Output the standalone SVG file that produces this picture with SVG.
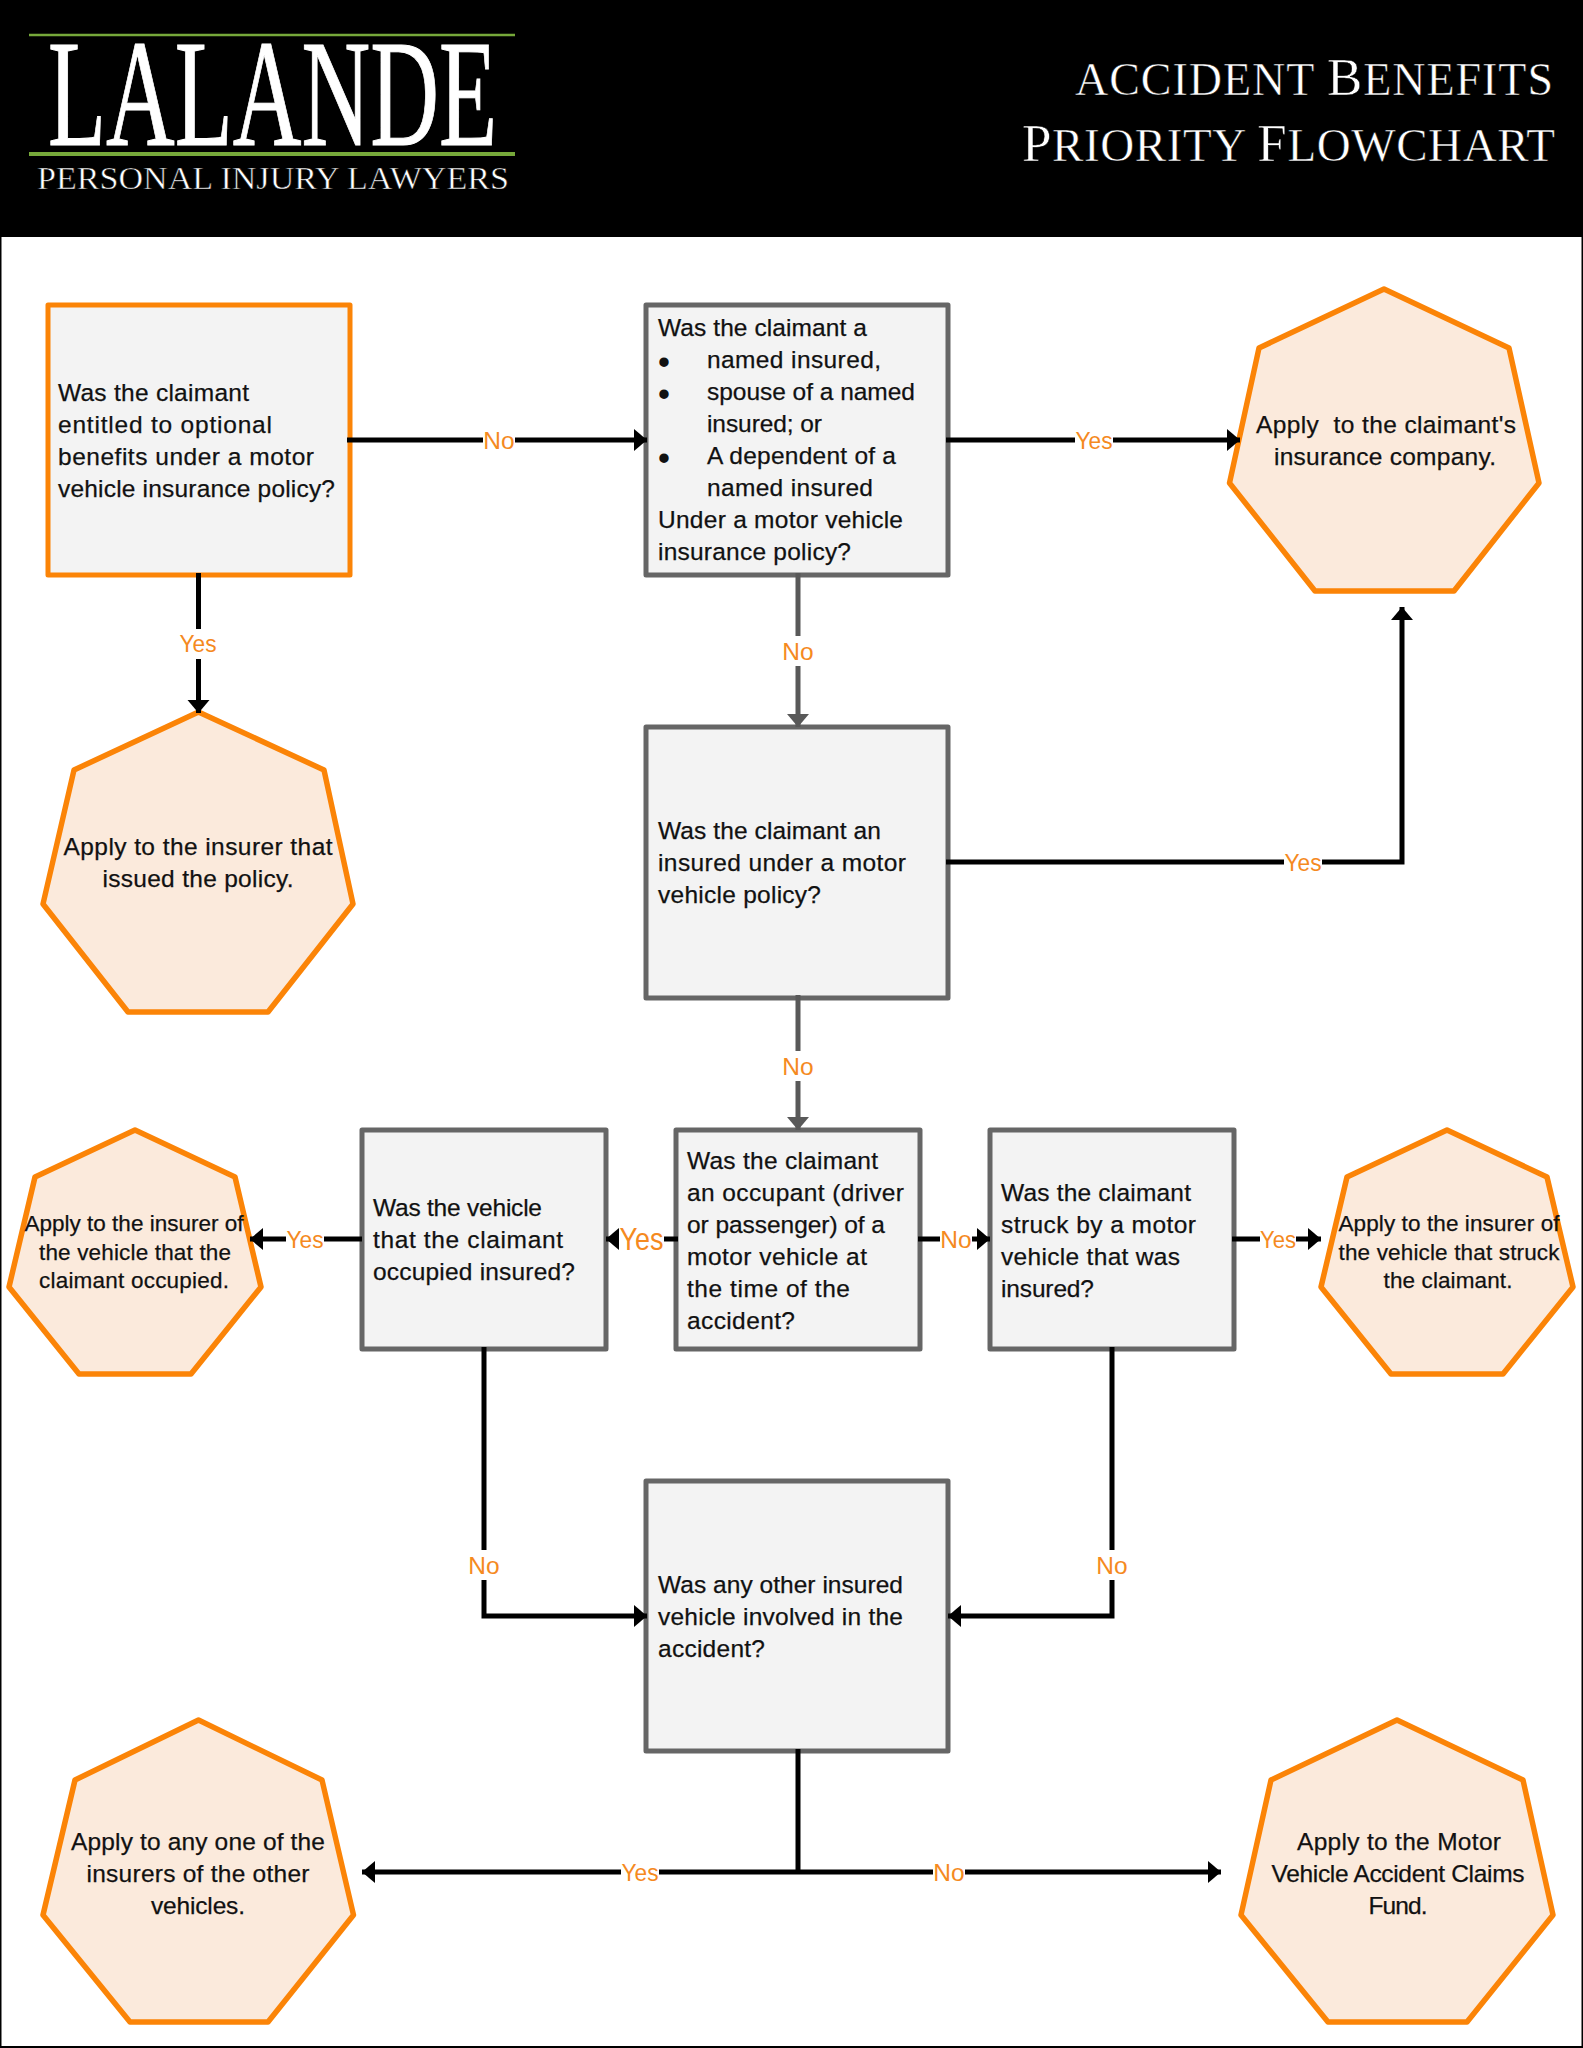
<svg xmlns="http://www.w3.org/2000/svg" width="1583" height="2048" viewBox="0 0 1583 2048">
<style>
text{font-family:"Liberation Sans",Arial,sans-serif;font-size:24.5px;fill:#111;stroke:#111;stroke-width:.25px}
.ser{font-family:"Liberation Serif","Times New Roman",serif;fill:#fff;stroke:#000;stroke-width:.5px}
.mid{text-anchor:middle}
.sm{font-size:22.5px}
.bl{font-size:27px;stroke-width:2px}
.box{fill:#f3f3f3;stroke:#666;stroke-width:5;stroke-linejoin:round}
.box.or{stroke:#fb8407}
.hep{fill:#fbeadc;stroke:#fb8407;stroke-width:5.500;stroke-linejoin:round}
.c{fill:none;stroke:#000;stroke-width:5;marker-end:url(#ab)}
.c.g{stroke:#595959;marker-end:url(#ag)}
.n{fill:none;stroke:#000;stroke-width:5}
.lb{fill:#fff}
.l{fill:#f58a1f;stroke:none;text-anchor:middle}
.grn{stroke:#76a83a;fill:none}
</style>
<defs>
<marker id="ab" markerUnits="userSpaceOnUse" markerWidth="14" markerHeight="24" refX="13" refY="12" orient="auto"><path d="M0 1L13 12L0 23Z" fill="#000"/></marker>
<marker id="ag" markerUnits="userSpaceOnUse" markerWidth="14" markerHeight="24" refX="13" refY="12" orient="auto"><path d="M0 1L13 12L0 23Z" fill="#595959"/></marker>
</defs>
<rect width="1583" height="2048" fill="#000"/>
<rect x="1.500" y="237" width="1580" height="1809" fill="#fff"/>
<g id="header">
<path class="grn" stroke-width="2.500" d="M29 35H515"/>
<path class="grn" stroke-width="4" d="M29 154H515"/>
<text class="ser" x="48" y="145" style="font-size:153px;stroke:#fff;stroke-width:1px" textLength="449" lengthAdjust="spacingAndGlyphs">LALANDE</text>
<text class="ser" x="37" y="189" style="font-size:31px" textLength="472" lengthAdjust="spacingAndGlyphs">PERSONAL INJURY LAWYERS</text>
<text class="ser" x="1075" y="94.500" style="font-size:46px" textLength="478">ACCIDENT <tspan style="font-size:53px">B</tspan>ENEFITS</text>
<text class="ser" x="1022" y="161" style="font-size:47px" textLength="533"><tspan style="font-size:53px">P</tspan>RIORITY <tspan style="font-size:53px">F</tspan>LOWCHART</text>
</g>
<g id="q-optional">
<rect class="box or" x="48" y="305" width="302" height="270"/>
<text x="58" y="401" textLength="191">Was the claimant</text>
<text x="58" y="433" textLength="214">entitled to optional</text>
<text x="58" y="465" textLength="256">benefits under a motor</text>
<text x="58" y="497" textLength="277">vehicle insurance policy?</text>
</g>
<g id="q-named">
<rect class="box" x="646" y="305" width="302" height="270"/>
<text x="658" y="336" textLength="209">Was the claimant a</text>
<text class="bl" x="659.300" y="371">•</text><text x="707" y="368" textLength="174">named insured,</text>
<text class="bl" x="659.300" y="403">•</text><text x="707" y="400" textLength="208">spouse of a named</text>
<text x="707" y="432" textLength="115">insured; or</text>
<text class="bl" x="659.300" y="467">•</text><text x="707" y="464" textLength="189">A dependent of a</text>
<text x="707" y="496" textLength="166">named insured</text>
<text x="658" y="528" textLength="245">Under a motor vehicle</text>
<text x="658" y="560" textLength="193">insurance policy?</text>
</g>
<g id="q-insured">
<rect class="box" x="646" y="727" width="302" height="271"/>
<text x="658" y="839" textLength="223">Was the claimant an</text>
<text x="658" y="871" textLength="248">insured under a motor</text>
<text x="658" y="903" textLength="163">vehicle policy?</text>
</g>
<g id="q-occupant">
<rect class="box" x="676" y="1130" width="244" height="219"/>
<text x="687" y="1169" textLength="191">Was the claimant</text>
<text x="687" y="1201" textLength="217">an occupant (driver</text>
<text x="687" y="1233" textLength="198">or passenger) of a</text>
<text x="687" y="1265" textLength="180">motor vehicle at</text>
<text x="687" y="1297" textLength="163">the time of the</text>
<text x="687" y="1329" textLength="108">accident?</text>
</g>
<g id="q-vehicle">
<rect class="box" x="362" y="1130" width="244" height="219"/>
<text x="373" y="1216" textLength="169">Was the vehicle</text>
<text x="373" y="1248" textLength="190">that the claimant</text>
<text x="373" y="1280" textLength="202">occupied insured?</text>
</g>
<g id="q-struck">
<rect class="box" x="990" y="1130" width="244" height="219"/>
<text x="1001" y="1201" textLength="190">Was the claimant</text>
<text x="1001" y="1233" textLength="195">struck by a motor</text>
<text x="1001" y="1265" textLength="179">vehicle that was</text>
<text x="1001" y="1297" textLength="93">insured?</text>
</g>
<g id="q-other">
<rect class="box" x="646" y="1481" width="302" height="270"/>
<text x="658" y="1593" textLength="245">Was any other insured</text>
<text x="658" y="1625" textLength="245">vehicle involved in the</text>
<text x="658" y="1657" textLength="107">accident?</text>
</g>
<g id="a-claimant-insurer">
<polygon class="hep" points="1384,289 1509,348 1539,483 1454,591 1315,591 1229.500,483 1259,348"/>
<text class="mid" x="1386" y="433" textLength="260">Apply&#160; to the claimant's</text>
<text class="mid" x="1385" y="465" textLength="222">insurance company.</text>
</g>
<g id="a-policy-insurer">
<polygon class="hep" points="198.500,712 324,770 353,904 268,1012 128,1012 43,904 74,770"/>
<text class="mid" x="198" y="855" textLength="269">Apply to the insurer that</text>
<text class="mid" x="198" y="887" textLength="191">issued the policy.</text>
</g>
<g id="a-occupied-insurer">
<polygon class="hep" points="135,1130 235,1177 261,1287 191,1374 79,1374 9,1287 35,1177"/>
<text class="mid sm" x="134" y="1231" textLength="219">Apply to the insurer of</text>
<text class="mid sm" x="135" y="1260" textLength="192">the vehicle that the</text>
<text class="mid sm" x="134" y="1288" textLength="190">claimant occupied.</text>
</g>
<g id="a-struck-insurer">
<polygon class="hep" points="1447,1130 1547,1177 1573,1287 1503,1374 1391,1374 1321,1287 1347,1177"/>
<text class="mid sm" x="1449" y="1231" textLength="221">Apply to the insurer of</text>
<text class="mid sm" x="1449" y="1260" textLength="221">the vehicle that struck</text>
<text class="mid sm" x="1448" y="1288" textLength="129">the claimant.</text>
</g>
<g id="a-other-insurers">
<polygon class="hep" points="198.500,1720 322,1780 353.500,1915 268,2022 130,2022 43,1915 75,1780"/>
<text class="mid" x="198" y="1850" textLength="254">Apply to any one of the</text>
<text class="mid" x="198" y="1882" textLength="223">insurers of the other</text>
<text class="mid" x="198" y="1914" textLength="94">vehicles.</text>
</g>
<g id="a-mvac-fund">
<polygon class="hep" points="1397,1720 1523,1780 1553,1915 1467,2022 1328,2022 1241,1915 1271,1780"/>
<text class="mid" x="1399" y="1850" textLength="204">Apply to the Motor</text>
<text class="mid" x="1398" y="1882" textLength="253">Vehicle Accident Claims</text>
<text class="mid" x="1398" y="1914" textLength="59">Fund.</text>
</g>
<g id="connectors">
<path class="c" d="M347 440H647"/>
<path class="c" d="M946 440H1240"/>
<path class="c" d="M198.500 573V713"/>
<path class="c g" d="M798 573V727"/>
<path class="c" d="M946 862H1402V607"/>
<path class="c g" d="M798 995V1130"/>
<path class="c" d="M678 1239H606"/>
<path class="c" d="M362 1239H250"/>
<path class="c" d="M918 1239H990"/>
<path class="c" d="M1232 1239H1321"/>
<path class="c" d="M484 1347V1616H647"/>
<path class="c" d="M1112 1347V1616H948"/>
<path class="n" d="M798 1749V1872"/>
<path class="c" d="M798 1872H362"/>
<path class="c" d="M798 1872H1221"/>
<rect class="lb" x="483" y="425" width="32" height="30"/><text class="l" x="499" y="449">No</text>
<rect class="lb" x="1075" y="425" width="38" height="30"/><text class="l" x="1094" y="449" textLength="37" lengthAdjust="spacingAndGlyphs">Yes</text>
<rect class="lb" x="178" y="629" width="40" height="30"/><text class="l" x="198" y="652" textLength="37" lengthAdjust="spacingAndGlyphs">Yes</text>
<rect class="lb" x="782" y="636" width="32" height="30"/><text class="l" x="798" y="660">No</text>
<rect class="lb" x="1284" y="847" width="38" height="30"/><text class="l" x="1303" y="871" textLength="37" lengthAdjust="spacingAndGlyphs">Yes</text>
<rect class="lb" x="782" y="1051" width="32" height="30"/><text class="l" x="798" y="1075">No</text>
<rect class="lb" x="619" y="1224" width="45" height="30"/><text class="l" x="641.500" y="1250" style="font-size:32px" textLength="44" lengthAdjust="spacingAndGlyphs">Yes</text>
<rect class="lb" x="286" y="1224" width="38" height="30"/><text class="l" x="305" y="1248" textLength="37" lengthAdjust="spacingAndGlyphs">Yes</text>
<rect class="lb" x="940" y="1224" width="32" height="30"/><text class="l" x="956" y="1248">No</text>
<rect class="lb" x="1260" y="1224" width="36" height="30"/><text class="l" x="1278" y="1248" textLength="36" lengthAdjust="spacingAndGlyphs">Yes</text>
<rect class="lb" x="468" y="1550" width="32" height="30"/><text class="l" x="484" y="1574">No</text>
<rect class="lb" x="1096" y="1550" width="32" height="30"/><text class="l" x="1112" y="1574">No</text>
<rect class="lb" x="621" y="1857" width="38" height="30"/><text class="l" x="640" y="1881" textLength="37" lengthAdjust="spacingAndGlyphs">Yes</text>
<rect class="lb" x="933" y="1857" width="32" height="30"/><text class="l" x="949" y="1881">No</text>
</g>
</svg>
